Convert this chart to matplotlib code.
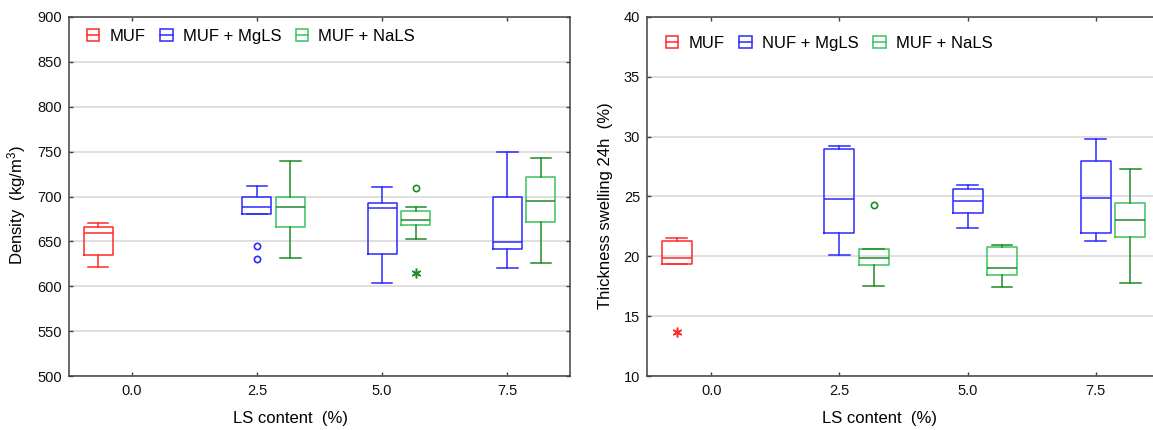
import matplotlib
matplotlib.use("Agg")
import matplotlib.pyplot as plt
from matplotlib.legend_handler import HandlerBase
from matplotlib.patches import Rectangle
from matplotlib.lines import Line2D

plt.rcParams['font.family'] = ['Liberation Sans', 'DejaVu Sans']
plt.rcParams['mathtext.fontset'] = 'custom'
plt.rcParams['mathtext.rm'] = 'Liberation Sans'
plt.rcParams['mathtext.it'] = 'Liberation Sans'

# ---------------- data ----------------
ls_levels = [0.0, 2.5, 5.0, 7.5]
xtick_labels = ['0.0', '2.5', '5.0', '7.5']

# five-number summaries: [whisker low, Q1, median, Q3, whisker high]
dens_muf_x = [0.0]
dens_muf_stats = [[621, 635, 659, 666, 671]]
dens_mgls_x = [2.5, 5.0, 7.5]
dens_mgls_stats = [[680, 680, 688, 699, 712],
                   [604, 636, 687, 693, 711],
                   [620, 641, 649, 700, 750]]
dens_nals_x = [2.5, 5.0, 7.5]
dens_nals_stats = [[632, 666, 688, 700, 739],
                   [653, 668, 674, 684, 688],
                   [626, 672, 695, 722, 743]]
# outliers (circles) and extremes (asterisks)
dens_mgls_out_x = [2.5, 2.5]
dens_mgls_out_y = [645, 630]
dens_nals_out_x = [5.0]
dens_nals_out_y = [710]
dens_nals_ext_x = [5.0]
dens_nals_ext_y = [615]

ts_muf_x = [0.0]
ts_muf_stats = [[19.4, 19.4, 19.85, 21.25, 21.5]]
ts_mgls_x = [2.5, 5.0, 7.5]
ts_mgls_stats = [[20.1, 21.95, 24.8, 28.95, 29.25],
                 [22.4, 23.6, 24.6, 25.6, 26.0],
                 [21.25, 21.95, 24.9, 27.95, 29.8]]
ts_nals_x = [2.5, 5.0, 7.5]
ts_nals_stats = [[17.55, 19.25, 19.85, 20.65, 20.65],
                 [17.45, 18.4, 19.0, 20.8, 20.95],
                 [17.8, 21.6, 23.0, 24.45, 27.3]]
ts_muf_ext_x = [0.0]
ts_muf_ext_y = [13.7]
ts_nals_out_x = [2.5]
ts_nals_out_y = [24.25]

legend_left = ['MUF', 'MUF + MgLS', 'MUF + NaLS']
legend_right = ['MUF', 'NUF + MgLS', 'MUF + NaLS']

# ---------------- styles ----------------
RED = '#ff2a2a'
BLUE = '#2a2aff'
GREEN_BOX = '#3cc25e'
GREEN_DARK = '#1f8a2a'
OFFSETS = {'muf': -0.67, 'mgls': 0.0, 'nals': 0.67}
BOXW = 0.58
LW = 1.1


def draw_series(ax, xs, stats, offset, boxcolor, linecolor):
    bstats = []
    for s in stats:
        bstats.append(dict(whislo=s[0], q1=s[1], med=s[2], q3=s[3], whishi=s[4], fliers=[]))
    pos = [x + offset for x in xs]
    ax.bxp(bstats, positions=pos, widths=BOXW, showfliers=False, manage_ticks=False,
           boxprops=dict(color=boxcolor, lw=LW),
           whiskerprops=dict(color=linecolor, lw=LW),
           capprops=dict(color=linecolor, lw=LW),
           medianprops=dict(color=linecolor, lw=LW),
           capwidths=BOXW * 0.7)


def draw_points(ax, xs, ys, offset, color, kind):
    pos = [x + offset for x in xs]
    if kind == 'o':
        ax.plot(pos, ys, ls='none', marker='o', ms=4.5, mfc='none', mec=color, mew=1.2, zorder=5)
    else:
        ax.plot(pos, ys, ls='none', marker=(6, 2, 0), ms=7, mec=color, mew=1.1, zorder=5)


class BoxHandler(HandlerBase):
    def create_artists(self, legend, orig_handle, xdescent, ydescent, width, height, fontsize, trans):
        color = orig_handle.get_edgecolor()
        x0 = -xdescent
        y0 = -ydescent
        r = Rectangle((x0, y0), width, height, fill=False, edgecolor=color, lw=1.1, transform=trans)
        l = Line2D([x0, x0 + width], [y0 + height / 2, y0 + height / 2], color=color, lw=1.1,
                   transform=trans)
        return [r, l]


def style_axes(ax, ylim, yticks):
    ax.set_xlim(-1.25, 8.75)
    ax.set_ylim(*ylim)
    ax.set_xticks(ls_levels)
    ax.set_xticklabels(xtick_labels)
    ax.set_yticks(yticks)
    ax.yaxis.grid(True, color='#dadada', lw=1.2)
    ax.set_axisbelow(True)
    ax.tick_params(axis='both', direction='in', length=3, width=1, color='#404040',
                   top=True, right=True, labelsize=10.5, labelcolor='#111111')
    ax.tick_params(axis='x', pad=6)
    ax.tick_params(axis='y', pad=5)
    for sp in ax.spines.values():
        sp.set_color('#404040')
        sp.set_linewidth(1.1)


fig = plt.figure(figsize=(11.53, 4.30), dpi=100)
ax1 = fig.add_axes([69 / 1153, 54 / 430, 501 / 1153, 359 / 430])
ax2 = fig.add_axes([647 / 1153, 54 / 430, 513 / 1153, 359 / 430])

# ---- left: density ----
draw_series(ax1, dens_muf_x, dens_muf_stats, OFFSETS['muf'], RED, RED)
draw_series(ax1, dens_mgls_x, dens_mgls_stats, OFFSETS['mgls'], BLUE, BLUE)
draw_series(ax1, dens_nals_x, dens_nals_stats, OFFSETS['nals'], GREEN_BOX, GREEN_DARK)
draw_points(ax1, dens_mgls_out_x, dens_mgls_out_y, OFFSETS['mgls'], BLUE, 'o')
draw_points(ax1, dens_nals_out_x, dens_nals_out_y, OFFSETS['nals'], GREEN_DARK, 'o')
draw_points(ax1, dens_nals_ext_x, dens_nals_ext_y, OFFSETS['nals'], GREEN_DARK, '*')
style_axes(ax1, (500, 900), list(range(500, 901, 50)))
ax1.set_xlabel('LS content  (%)', fontsize=12, va='center')
ax1.xaxis.set_label_coords(0.4427, -0.117)
ax1.set_ylabel('Density  (kg/m$^3$)', fontsize=12, va='center')
ax1.yaxis.set_label_coords(-0.105, 0.476)

# ---- right: thickness swelling ----
draw_series(ax2, ts_muf_x, ts_muf_stats, OFFSETS['muf'], RED, RED)
draw_series(ax2, ts_mgls_x, ts_mgls_stats, OFFSETS['mgls'], BLUE, BLUE)
draw_series(ax2, ts_nals_x, ts_nals_stats, OFFSETS['nals'], GREEN_BOX, GREEN_DARK)
draw_points(ax2, ts_muf_ext_x, ts_muf_ext_y, OFFSETS['muf'], RED, '*')
draw_points(ax2, ts_nals_out_x, ts_nals_out_y, OFFSETS['nals'], GREEN_DARK, 'o')
style_axes(ax2, (10, 40), list(range(10, 41, 5)))
ax2.set_xlabel('LS content  (%)', fontsize=12, va='center')
ax2.xaxis.set_label_coords(0.4538, -0.117)
ax2.set_ylabel('Thickness swelling 24h  (%)', fontsize=12, va='center')
ax2.yaxis.set_label_coords(-0.081, 0.4735)

# ---- legends ----
leg_colors = [RED, BLUE, GREEN_BOX]
for ax, labels, anchor in [(ax1, legend_left, (0.0359, 0.966)), (ax2, legend_right, (0.037, 0.948))]:
    handles = [Rectangle((0, 0), 1, 1, fill=False, edgecolor=c) for c in leg_colors]
    ax.legend(handles, labels, handler_map={Rectangle: BoxHandler()}, loc='upper left',
              bbox_to_anchor=anchor, ncol=3, frameon=False, fontsize=12,
              handlelength=0.74, handleheight=0.72, handletextpad=0.6, columnspacing=0.9,
              borderpad=0, borderaxespad=0)

fig.savefig('out.png', dpi=100)
